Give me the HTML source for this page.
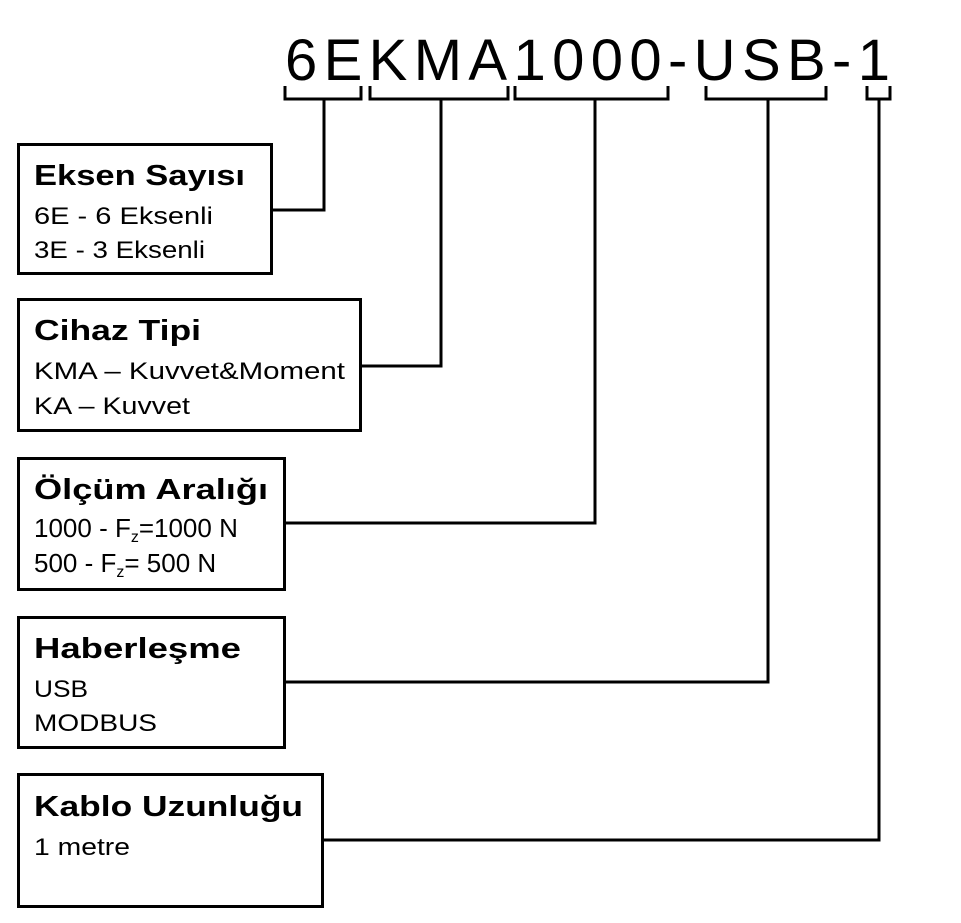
<!DOCTYPE html>
<html><head><meta charset="utf-8"><style>
html,body{margin:0;padding:0;background:#fff;}
svg{display:block;font-family:"Liberation Sans",sans-serif;}
.t{font-weight:bold;font-size:29px;}
.l{font-size:24px;}
</style></head><body>
<svg width="961" height="923" viewBox="0 0 961 923" xmlns="http://www.w3.org/2000/svg">
<text x="285" y="80" font-size="58" textLength="605" lengthAdjust="spacing" fill="#000">6EKMA1000-USB-1</text>
<g fill="none" stroke="#000" stroke-width="3">
<path d="M285 86V99H361V86"/>
<path d="M370 86V99H508V86"/>
<path d="M515 86V99H668V86"/>
<path d="M706 86V99H826V86"/>
<path d="M867 86V99H890V86"/>
<path d="M324 99V210H272"/>
<path d="M441 99V366H361"/>
<path d="M595 99V523H284"/>
<path d="M768 99V682H285"/>
<path d="M879 99V840H323"/>
<rect x="18.5" y="144.5" width="253" height="129"/>
<rect x="18.5" y="299.5" width="342" height="131"/>
<rect x="18.5" y="458.5" width="266" height="131"/>
<rect x="18.5" y="617.5" width="266" height="130"/>
<rect x="18.5" y="774.5" width="304" height="132"/>
</g>
<g fill="#000">
<text class="t" x="34" y="185" textLength="211" lengthAdjust="spacingAndGlyphs">Eksen Sayısı</text>
<text class="l" x="34" y="224" textLength="179" lengthAdjust="spacingAndGlyphs">6E - 6 Eksenli</text>
<text class="l" x="34" y="258" textLength="171" lengthAdjust="spacingAndGlyphs">3E - 3 Eksenli</text>
<text class="t" x="34" y="340" textLength="167" lengthAdjust="spacingAndGlyphs">Cihaz Tipi</text>
<text class="l" x="34" y="379" textLength="311" lengthAdjust="spacingAndGlyphs">KMA – Kuvvet&amp;Moment</text>
<text class="l" x="34" y="414" textLength="156" lengthAdjust="spacingAndGlyphs">KA – Kuvvet</text>
<text class="t" x="34" y="499" textLength="234" lengthAdjust="spacingAndGlyphs">Ölçüm Aralığı</text>
<text x="34" y="537" font-size="26">1000 - F<tspan font-size="16" dy="5">z</tspan><tspan dy="-5">=1000 N</tspan></text>
<text x="34" y="572" font-size="26">500 - F<tspan font-size="16" dy="5">z</tspan><tspan dy="-5">= 500 N</tspan></text>
<text class="t" x="34" y="658" textLength="207" lengthAdjust="spacingAndGlyphs">Haberleşme</text>
<text class="l" x="34" y="697" textLength="54" lengthAdjust="spacingAndGlyphs">USB</text>
<text class="l" x="34" y="731" textLength="123" lengthAdjust="spacingAndGlyphs">MODBUS</text>
<text class="t" x="34" y="816" textLength="269" lengthAdjust="spacingAndGlyphs">Kablo Uzunluğu</text>
<text class="l" x="34" y="855" textLength="96" lengthAdjust="spacingAndGlyphs">1 metre</text>
</g>
</svg>
</body></html>
